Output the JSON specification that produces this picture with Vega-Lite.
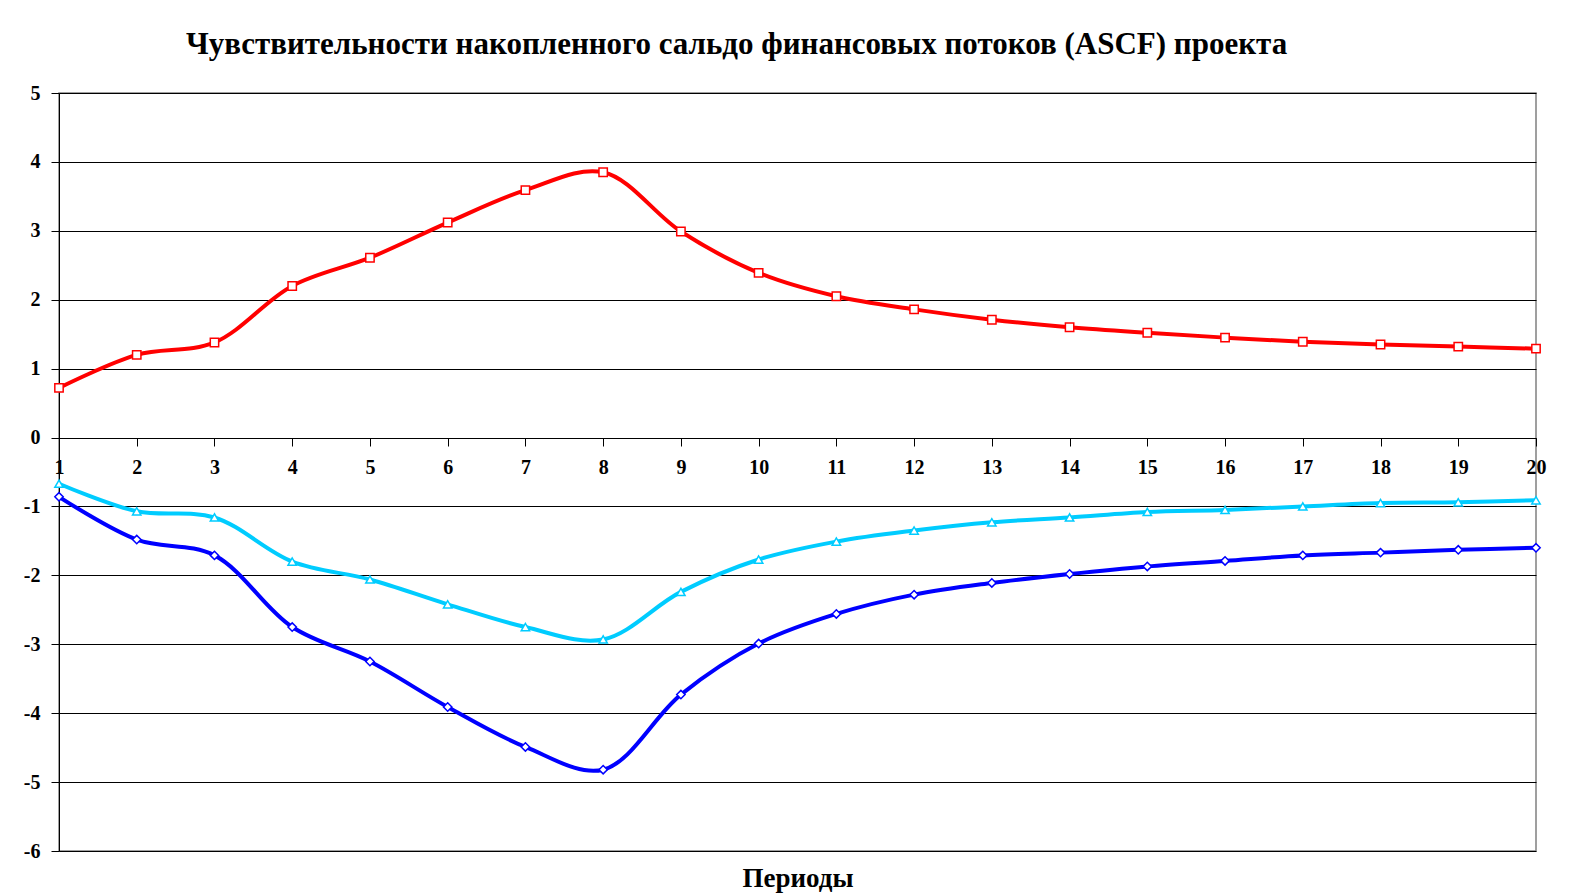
{
  "$schema": "https://vega.github.io/schema/vega-lite/v6.json",
  "width": 1477,
  "height": 758,
  "autosize": {"type": "none"},
  "padding": {"left": 59, "top": 93, "right": 45, "bottom": 45},
  "background": "white",
  "title": {
    "text": "Чувствительности накопленного сальдо финансовых потоков (ASCF) проекта",
    "font": "Liberation Serif",
    "fontSize": 31,
    "fontWeight": "bold",
    "color": "black",
    "anchor": "middle",
    "dx": -61,
    "offset": 22
  },
  "config": {
    "view": {"stroke": "#808080", "strokeWidth": 1.5},
    "axis": {
      "labelFont": "Liberation Serif",
      "labelFontWeight": "bold",
      "labelFontSize": 20,
      "labelColor": "black",
      "titleFont": "Liberation Serif",
      "titleFontWeight": "bold",
      "titleFontSize": 27,
      "titleColor": "black",
      "domainColor": "black",
      "tickColor": "black",
      "gridColor": "black",
      "gridOpacity": 1
    }
  },
  "data": {
    "values": [
      {"period": 1, "series": "A", "value": 0.72},
      {"period": 2, "series": "A", "value": 1.2},
      {"period": 3, "series": "A", "value": 1.38},
      {"period": 4, "series": "A", "value": 2.2},
      {"period": 5, "series": "A", "value": 2.61},
      {"period": 6, "series": "A", "value": 3.12},
      {"period": 7, "series": "A", "value": 3.59},
      {"period": 8, "series": "A", "value": 3.85},
      {"period": 9, "series": "A", "value": 2.99},
      {"period": 10, "series": "A", "value": 2.39},
      {"period": 11, "series": "A", "value": 2.05},
      {"period": 12, "series": "A", "value": 1.86},
      {"period": 13, "series": "A", "value": 1.71},
      {"period": 14, "series": "A", "value": 1.6},
      {"period": 15, "series": "A", "value": 1.52},
      {"period": 16, "series": "A", "value": 1.45},
      {"period": 17, "series": "A", "value": 1.39},
      {"period": 18, "series": "A", "value": 1.35},
      {"period": 19, "series": "A", "value": 1.32},
      {"period": 20, "series": "A", "value": 1.29},
      {"period": 1, "series": "B", "value": -0.67},
      {"period": 2, "series": "B", "value": -1.07},
      {"period": 3, "series": "B", "value": -1.16},
      {"period": 4, "series": "B", "value": -1.8},
      {"period": 5, "series": "B", "value": -2.06},
      {"period": 6, "series": "B", "value": -2.42},
      {"period": 7, "series": "B", "value": -2.75},
      {"period": 8, "series": "B", "value": -2.93},
      {"period": 9, "series": "B", "value": -2.24},
      {"period": 10, "series": "B", "value": -1.77},
      {"period": 11, "series": "B", "value": -1.51},
      {"period": 12, "series": "B", "value": -1.35},
      {"period": 13, "series": "B", "value": -1.23},
      {"period": 14, "series": "B", "value": -1.16},
      {"period": 15, "series": "B", "value": -1.08},
      {"period": 16, "series": "B", "value": -1.05},
      {"period": 17, "series": "B", "value": -1.0},
      {"period": 18, "series": "B", "value": -0.95},
      {"period": 19, "series": "B", "value": -0.94},
      {"period": 20, "series": "B", "value": -0.91},
      {"period": 1, "series": "C", "value": -0.86},
      {"period": 2, "series": "C", "value": -1.48},
      {"period": 3, "series": "C", "value": -1.71},
      {"period": 4, "series": "C", "value": -2.75},
      {"period": 5, "series": "C", "value": -3.25},
      {"period": 6, "series": "C", "value": -3.91},
      {"period": 7, "series": "C", "value": -4.49},
      {"period": 8, "series": "C", "value": -4.82},
      {"period": 9, "series": "C", "value": -3.73},
      {"period": 10, "series": "C", "value": -2.99},
      {"period": 11, "series": "C", "value": -2.56},
      {"period": 12, "series": "C", "value": -2.28},
      {"period": 13, "series": "C", "value": -2.11},
      {"period": 14, "series": "C", "value": -1.98},
      {"period": 15, "series": "C", "value": -1.87},
      {"period": 16, "series": "C", "value": -1.79},
      {"period": 17, "series": "C", "value": -1.71},
      {"period": 18, "series": "C", "value": -1.67},
      {"period": 19, "series": "C", "value": -1.63},
      {"period": 20, "series": "C", "value": -1.6}
    ]
  },
  "resolve": {"axis": {"x": "independent"}},
  "layer": [
    {
      "mark": {"type": "line", "interpolate": "catmull-rom", "strokeWidth": 4},
      "encoding": {
        "x": {
          "field": "period",
          "type": "quantitative",
          "scale": {"domain": [1, 20], "nice": false, "zero": false},
          "axis": {
            "orient": "bottom",
            "offset": -413,
            "values": [1,2,3,4,5,6,7,8,9,10,11,12,13,14,15,16,17,18,19,20],
            "format": "d",
            "grid": false,
            "tickSize": 8,
            "labelPadding": 11,
            "labelFlush": false,
            "title": null
          }
        },
        "y": {
          "field": "value",
          "type": "quantitative",
          "scale": {"domain": [-6, 5], "nice": false},
          "axis": {
            "values": [-6,-5,-4,-3,-2,-1,0,1,2,3,4,5],
            "labelExpr": "datum.value < 0 ? '-' + abs(datum.value) : '' + datum.value",
            "grid": true,
            "tickSize": 8,
            "labelPadding": 11,
            "title": null
          }
        },
        "color": {
          "field": "series",
          "type": "nominal",
          "scale": {"domain": ["A", "B", "C"], "range": ["#FF0000", "#00CCFF", "#0000FF"]},
          "legend": null
        },
        "detail": {"field": "series"}
      }
    },
    {
      "mark": {"type": "point", "filled": false, "fill": "white", "fillOpacity": 1, "opacity": 1, "strokeWidth": 1.5, "size": 70},
      "encoding": {
        "x": {
          "field": "period",
          "type": "quantitative",
          "axis": {
            "orient": "bottom",
            "labels": false,
            "ticks": false,
            "domain": false,
            "grid": false,
            "title": "Периоды",
            "titlePadding": 14
          }
        },
        "y": {"field": "value", "type": "quantitative"},
        "color": {
          "field": "series",
          "type": "nominal",
          "legend": null
        },
        "shape": {
          "field": "series",
          "type": "nominal",
          "scale": {"domain": ["A", "B", "C"], "range": ["square", "triangle-up", "diamond"]},
          "legend": null
        }
      }
    }
  ]
}
